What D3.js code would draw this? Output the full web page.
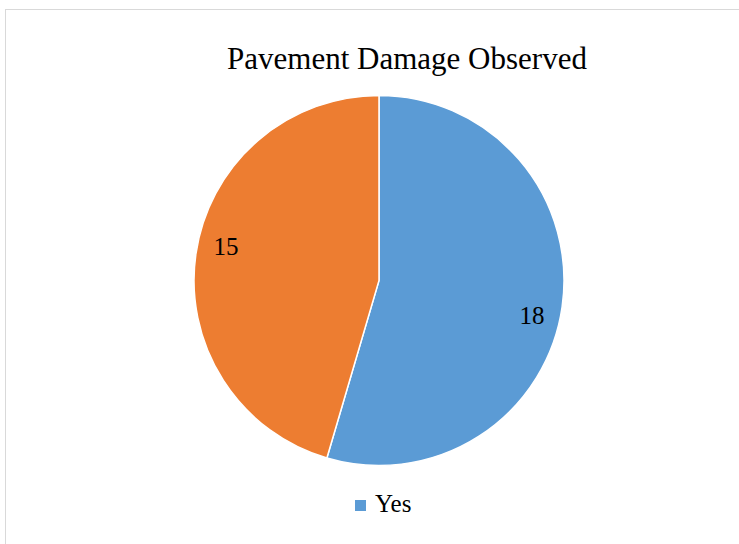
<!DOCTYPE html>
<html>
<head>
<meta charset="utf-8">
<script src="https://cdn.jsdelivr.net/npm/d3@7"></script>
<style>
  html, body { margin: 0; padding: 0; background: #fff; }
  #chart { width: 739px; height: 544px; }
  text { font-family: "Liberation Serif", "Times New Roman", serif; fill: #000; }
</style>
</head>
<body>
<div id="chart"></div>
<script>
// data
const categories = ["Yes", "No"];
const values = [18, 15];
const colors = ["#5B9BD5", "#ED7D31"];
const legendItems = ["Yes"];   // original legend only lists the first entry
const title = "Pavement Damage Observed";

function draw() {
  const w = 739, h = 544;
  const cx = 379, cy = 280.5, r = 185;

  const svg = d3.select("#chart")
    .append("svg")
    .attr("width", w)
    .attr("height", h);

  // chart frame (runs off the bottom/right of the picture)
  svg.append("rect")
    .attr("x", 5.5)
    .attr("y", 9.5)
    .attr("width", 900)
    .attr("height", 900)
    .attr("fill", "none")
    .attr("stroke", "#d9d9d9")
    .attr("stroke-width", 1);

  svg.append("text")
    .attr("x", 407)
    .attr("y", 69)
    .attr("text-anchor", "middle")
    .style("font-size", "31px")
    .text(title);

  const data = categories.map((c, i) => ({ name: c, value: values[i] }));
  const pie = d3.pie().sort(null).value(d => d.value);
  const arcs = pie(data);

  const arc = d3.arc().innerRadius(0).outerRadius(r);
  const color = d3.scaleOrdinal().domain(categories).range(colors);

  const g = svg.append("g").attr("transform", `translate(${cx},${cy})`);

  g.selectAll("path")
    .data(arcs)
    .join("path")
    .attr("d", arc)
    .attr("fill", d => color(d.data.name))
    .attr("stroke", "#fff")
    .attr("stroke-width", 1.5);

  // labels near the outer edge, nudged a little clockwise like the original
  const labelR = 157, labelShift = 0.08;
  g.selectAll("text.lbl")
    .data(arcs)
    .join("text")
    .attr("class", "lbl")
    .attr("x", d => labelR * Math.sin((d.startAngle + d.endAngle) / 2 + labelShift))
    .attr("y", d => -labelR * Math.cos((d.startAngle + d.endAngle) / 2 + labelShift))
    .attr("dy", "0.35em")
    .attr("text-anchor", "middle")
    .style("font-size", "25px")
    .text(d => d.data.value);

  // legend
  const lg = svg.append("g").attr("transform", "translate(355,500)");
  lg.selectAll("rect")
    .data(legendItems)
    .join("rect")
    .attr("width", 11)
    .attr("height", 11)
    .attr("fill", d => color(d));
  lg.selectAll("text")
    .data(legendItems)
    .join("text")
    .attr("x", 20)
    .attr("y", 12)
    .style("font-size", "25px")
    .text(d => d);
}

draw();
</script>
</body>
</html>
